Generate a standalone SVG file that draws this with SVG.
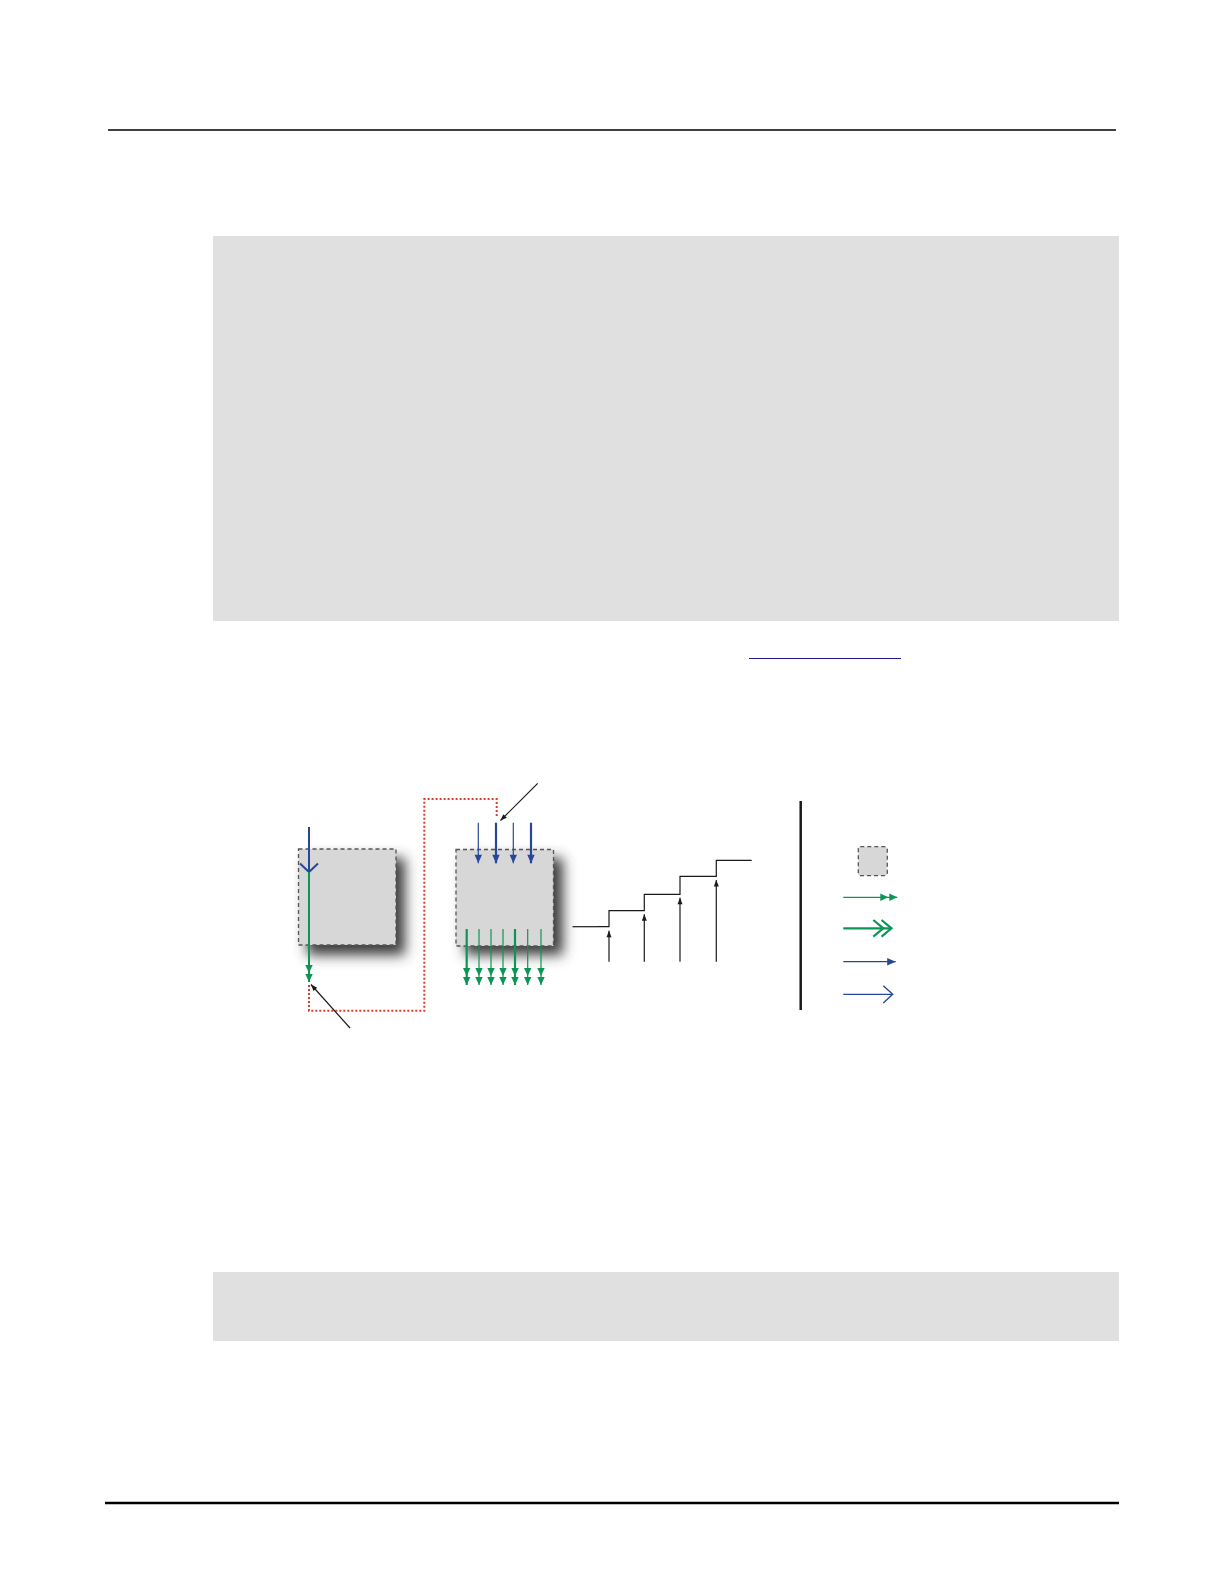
<svg xmlns="http://www.w3.org/2000/svg" width="1224" height="1584" viewBox="0 0 1224 1584">
<style>
.panel{fill:#e0e0e0}
.rule{stroke:#000;fill:none}
.box{fill:#d7d7d7;stroke:#555;stroke-width:1.3;stroke-dasharray:4,3}
.shadow{fill:#3a3a3a;filter:url(#blur)}
.blue{stroke:#27489a;fill:none}
.green{stroke:#0c9655;fill:none}
.blk{stroke:#1a1a1a;fill:none;stroke-width:1.2}
.red{stroke:#e2392c;fill:none;stroke-width:2;stroke-dasharray:2,2}
</style>
<defs>
<filter id="blur" x="-40%" y="-40%" width="180%" height="180%"><feGaussianBlur stdDeviation="6.5"/></filter>
<marker id="gDbl" markerUnits="userSpaceOnUse" viewBox="-18 -4 19 8" refX="0" refY="0" markerWidth="19" markerHeight="8" orient="auto">
<path d="M0,0 L-8,-3.7 L-8,3.7 Z M-9,0 L-17,-3.7 L-17,3.7 Z" fill="#0c9655"/>
</marker>
<marker id="bTri" markerUnits="userSpaceOnUse" viewBox="-9 -4 10 8" refX="0" refY="0" markerWidth="10" markerHeight="8" orient="auto">
<path d="M0,0 L-8.5,-3.7 L-8.5,3.7 Z" fill="#27489a"/>
</marker>
<marker id="kTri" markerUnits="userSpaceOnUse" viewBox="-7 -3 8 6" refX="0" refY="0" markerWidth="8" markerHeight="6" orient="auto">
<path d="M0,0 L-6.5,-2.5 L-6.5,2.5 Z" fill="#1a1a1a"/>
</marker>
</defs>
<rect width="1224" height="1584" fill="#fff"/>
<g id="page">
<line class="rule" x1="108" y1="130" x2="1116" y2="130" stroke-width="1.5"/>
<line class="rule" x1="105" y1="1503" x2="1119" y2="1503" stroke-width="2.5"/>
<rect class="panel" x="213" y="236" width="906" height="385"/>
<rect class="panel" x="213" y="1272" width="906" height="69"/>
<line x1="749" y1="658.5" x2="901" y2="658.5" stroke="#1a1a8c" stroke-width="1.2"/>
</g>
<g id="node-left">
<rect class="shadow" x="307" y="858" width="98" height="97"/>
<rect class="box" x="298.5" y="849" width="97.5" height="96"/>
</g>
<g id="node-right">
<rect class="shadow" x="465" y="858" width="98" height="97"/>
<rect class="box" x="456" y="849.5" width="97.5" height="96.5"/>
</g>
<g id="node-steps">
<line class="blk" x1="572.5" y1="926.7" x2="598" y2="926.7" stroke-width="2"/>
<path class="blk" d="M598,926.7 H609 V910.7 H644.3 V894.3 H680 V876.3 H716.3 V860.3 H751.7"/>
</g>
<g id="divider">
<line x1="800.7" y1="801" x2="800.7" y2="1010" stroke="#1a1a1a" stroke-width="2.5"/>
</g>
<g id="legend">
<rect class="box" x="858.3" y="846.7" width="29" height="29" rx="2"/>
<line class="green" x1="843.3" y1="897.3" x2="897.3" y2="897.3" stroke-width="1.3" marker-end="url(#gDbl)"/>
<line class="green" x1="843.3" y1="928.3" x2="891" y2="928.3" stroke-width="2.2"/>
<path class="green" d="M873.3,920 L883.3,928.3 L873.3,936.6 M881.5,920 L891.5,928.3 L881.5,936.6" stroke-width="2.2"/>
<line class="blue" x1="843.3" y1="961.7" x2="895.7" y2="961.7" stroke-width="1.3" marker-end="url(#bTri)"/>
<line class="blue" x1="843.3" y1="994.3" x2="892" y2="994.3" stroke-width="1.3"/>
<path class="blue" d="M883.3,985.7 L892.7,994.3 L883.3,1002.9" stroke-width="1.4"/>
</g>
<g id="connectors">
<path class="red" d="M309,985 V1010.7 H424.3 V799 H496.7 V818"/>
<line class="blue" x1="309" y1="827" x2="309" y2="872" stroke-width="2"/>
<path class="blue" d="M300,863.5 L309,872 L318,863.5" stroke-width="2"/>
<line class="green" x1="309" y1="872" x2="309" y2="982" stroke-width="2" marker-end="url(#gDbl)"/>
<line class="blue" x1="478.3" y1="822.7" x2="478.3" y2="863.3" stroke-width="1.2" marker-end="url(#bTri)"/>
<line class="blue" x1="496" y1="822.7" x2="496" y2="863.3" stroke-width="2.2" marker-end="url(#bTri)"/>
<line class="blue" x1="513.3" y1="822.7" x2="513.3" y2="863.3" stroke-width="1.2" marker-end="url(#bTri)"/>
<line class="blue" x1="531" y1="822.7" x2="531" y2="863.3" stroke-width="2.2" marker-end="url(#bTri)"/>
<line class="green" x1="466.7" y1="929" x2="466.7" y2="985" stroke-width="2.2" marker-end="url(#gDbl)"/>
<line class="green" x1="479" y1="929" x2="479" y2="985" stroke-width="1.2" marker-end="url(#gDbl)"/>
<line class="green" x1="491" y1="929" x2="491" y2="985" stroke-width="1.2" marker-end="url(#gDbl)"/>
<line class="green" x1="503" y1="929" x2="503" y2="985" stroke-width="1.2" marker-end="url(#gDbl)"/>
<line class="green" x1="515" y1="929" x2="515" y2="985" stroke-width="2.2" marker-end="url(#gDbl)"/>
<line class="green" x1="527.7" y1="929" x2="527.7" y2="985" stroke-width="1.2" marker-end="url(#gDbl)"/>
<line class="green" x1="541" y1="929" x2="541" y2="985" stroke-width="1.2" marker-end="url(#gDbl)"/>
<line class="blk" x1="609" y1="961.7" x2="609" y2="930.7" marker-end="url(#kTri)"/>
<line class="blk" x1="644.3" y1="961.7" x2="644.3" y2="914.3" marker-end="url(#kTri)"/>
<line class="blk" x1="680" y1="961.7" x2="680" y2="897.7" marker-end="url(#kTri)"/>
<line class="blk" x1="716.3" y1="961.7" x2="716.3" y2="880" marker-end="url(#kTri)"/>
<line class="blk" x1="537.7" y1="783.3" x2="500.5" y2="820.5" marker-end="url(#kTri)"/>
<line class="blk" x1="350" y1="1028" x2="311" y2="984.5" marker-end="url(#kTri)"/>
</g>
</svg>
